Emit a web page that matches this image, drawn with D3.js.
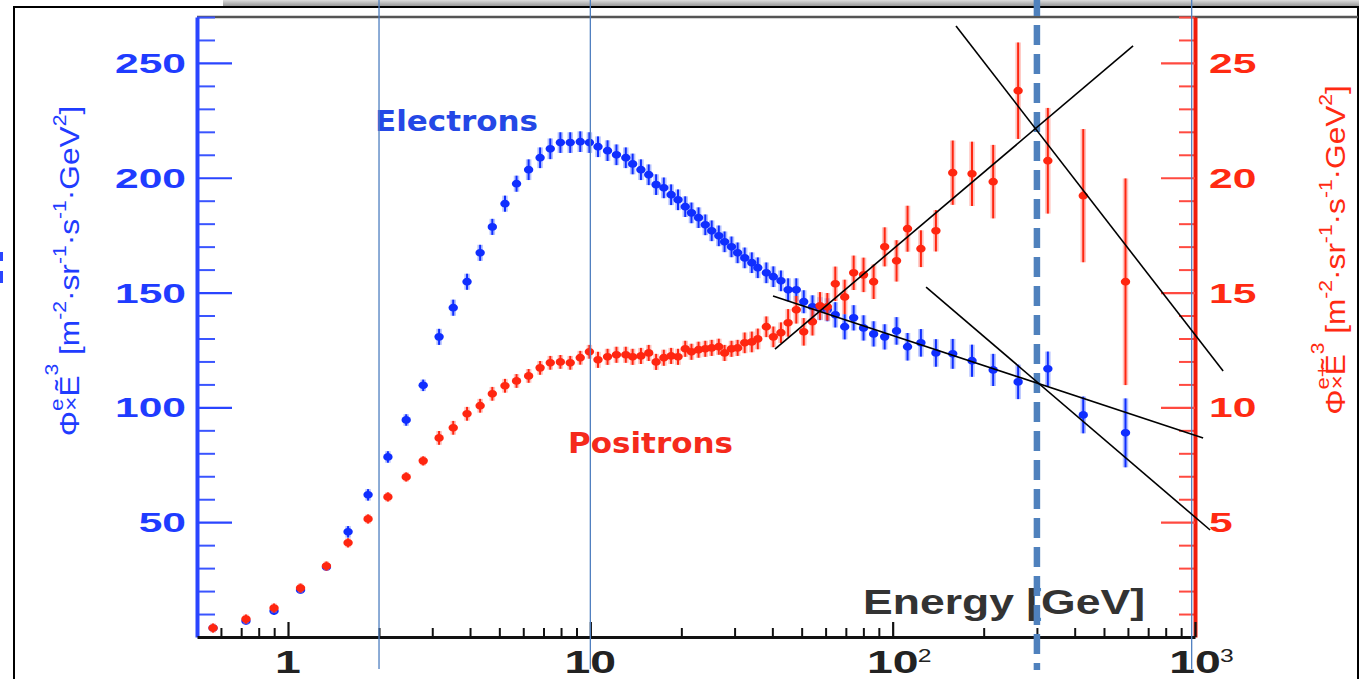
<!DOCTYPE html>
<html><head><meta charset="utf-8">
<script src="https://cdn.jsdelivr.net/npm/d3@7"></script>
<style>body{margin:0;background:#fff;overflow:hidden}svg{display:block}</style>
</head><body><svg id="c" width="1359" height="679"></svg>
<script>
// ---------------- DATA ----------------
const energy = [0.565,0.726,0.899,1.10,1.34,1.58,1.84,2.14,2.46,2.80,
  3.16,3.52,3.91,4.32,4.74,5.22,5.70,6.25,6.82,7.37,
  7.96,8.58,9.26,9.93,10.6,11.4,12.2,13.1,13.8,14.7,
  15.6,16.5,17.5,18.5,19.5,20.6,21.6,22.8,24.0,25.2,
  26.6,27.8,29.3,30.7,32.4,34.2,35.8,38.2,40.3,42.7,
  45.1,48.0,50.8,54.3,57.5,60.8,64.6,69.4,74.3,80.1,
  86.5,94.1,103,112,124,139,158,183,215,260,
  326,427,589];
const electronFlux = [3.9,7.0,11.3,20.5,30.5,45.8,61.9,78.4,94.5,109.6,
  130.7,143.4,154.7,167.3,178.6,188.7,197.4,203.5,208.7,212.6,
  215.3,215.3,215.7,215.3,213.5,211.8,210.0,208.7,206.0,203.5,
  201.3,197.0,195.6,192.6,190.4,187.4,184.7,182.6,179.5,176.9,
  174.7,172.1,169.9,167.3,165.1,163.0,160.8,158.6,156.9,155.1,
  151.2,151.2,146.0,143.8,143.0,142.5,140.3,135.1,139.0,134.6,
  132.0,130.7,133.3,126.4,128.1,123.7,123.3,120.3,116.3,111.1,
  116.8,96.7,88.9];
const electronErr = [1.5,1.5,1.5,1.5,1.5,2.5,2.5,2.5,2.5,2.5,
  3.5,3.5,3.5,3.5,3.5,3.5,3.5,4.5,4.5,4.5,
  4.5,4.5,4.5,4.5,4.5,4.5,4.5,4.5,4.5,4.5,
  4.5,4.5,4.5,4.5,4.5,4.5,4.5,4.5,4.5,4.5,
  4.5,4.5,4.5,4.5,4.5,4.5,4.5,4.5,4.5,4.5,
  5,5,5,5,5,5,5.5,5.5,5.5,5.5,
  5.5,5.5,6,6,6,6,6.5,7,7,7.5,
  7.5,8,15];
const positronFlux = [0.39,0.78,1.26,2.13,3.09,4.10,5.14,6.10,6.97,7.67,
  8.67,9.11,9.72,10.07,10.59,10.94,11.15,11.37,11.72,11.94,
  11.98,11.94,12.16,12.42,12.07,12.20,12.29,12.29,12.20,12.24,
  12.37,11.98,12.16,12.24,12.20,12.55,12.42,12.51,12.55,12.59,
  12.64,12.37,12.55,12.59,12.81,12.85,12.98,13.51,13.07,13.25,
  13.68,14.25,13.29,13.73,14.42,14.38,15.38,14.81,15.86,15.77,
  15.47,16.99,16.38,17.78,16.91,17.69,20.22,20.17,19.83,23.79,
  20.74,19.22,15.47];
const positronErr = [0.2,0.2,0.2,0.2,0.2,0.2,0.2,0.2,0.2,0.2,
  0.3,0.3,0.3,0.3,0.3,0.3,0.3,0.3,0.3,0.3,
  0.3,0.3,0.3,0.3,0.35,0.35,0.35,0.35,0.35,0.35,
  0.35,0.35,0.35,0.35,0.35,0.35,0.35,0.35,0.35,0.35,
  0.35,0.35,0.35,0.35,0.45,0.45,0.45,0.45,0.45,0.45,
  0.6,0.6,0.6,0.6,0.6,0.6,0.75,0.75,0.75,0.75,
  0.75,0.85,0.9,1.0,0.8,0.9,1.4,1.4,1.6,2.1,
  2.3,2.9,4.5];
const leftTicks = [50,100,150,200,250];
const rightTicks = [5,10,15,20,25];
const xMajorTicks = [1,10,100,1000];
const xTickBase = ["1","10","10","10"];
const xTickExp = ["","","2","3"];
const xMinorTicks = [0.6,0.7,0.8,0.9,2,3,4,5,6,7,8,9,20,30,40,50,60,70,80,90,200,300,400,500,600,700,800,900];
// annotation lines: [E1, value1, E2, value2] in left-axis units
const crossLines = [[162,266.1,1239,115.8],[40.8,125.4,624,257.4],[40.2,148.5,1064,86.7],[129,152.4,1122,46.6]];
const markerLines = [2,10,975];
const cutoffEnergy = 300;

// ---------------- SETUP ----------------
const svg = d3.select("#c");
const P = {l:197, r:1195, t:17, b:637};
const x = d3.scaleLog().domain([0.5,1000]).range([P.l,P.r]);
const yL = d3.scaleLinear().domain([0,270]).range([P.b,P.t]);
const yR = d3.scaleLinear().domain([0,27]).range([P.b,P.t]);
const BLUE = "#1f3cff", RED = "#ff2a12";

svg.append("rect").attr("width",1359).attr("height",679).attr("fill","#fff");
const defs = svg.append("defs");
const gr = defs.append("linearGradient").attr("id","sh").attr("x1",0).attr("y1",0).attr("x2",0).attr("y2",1);
gr.append("stop").attr("offset","0%").attr("stop-color","#dcdcdc");
gr.append("stop").attr("offset","100%").attr("stop-color","#8e8e8e");
svg.append("rect").attr("x",223).attr("y",0).attr("width",1136).attr("height",7).attr("fill","url(#sh)");
svg.append("path").attr("d","M14,690V7H1358V690").attr("fill","none").attr("stroke","#000").attr("stroke-width",2);
svg.append("line").attr("x1",P.l).attr("x2",1358).attr("y1",17).attr("y2",17).attr("stroke","#555").attr("stroke-width",2.5);
// fragment of a cut-off glyph at the far left edge (drawn as a shape)
svg.append("path").attr("d","M0,252h3v9h-3zM0,271h3v12h-3z").attr("fill","#2a45ff");

// ---------------- AXES ----------------
function styleAxis(g, col, w, dw){
  g.selectAll(".tick line").attr("stroke",col).attr("stroke-width",w);
  g.selectAll(".domain").attr("stroke",col).attr("stroke-width",dw);
  g.selectAll(".tick text").remove();
}
const gl1 = svg.append("g").attr("transform",`translate(${P.l},0)`)
  .call(d3.axisLeft(yL).tickValues(d3.range(10,271,10).filter(v=>v%50)).tickSizeInner(-18).tickSizeOuter(0));
gl1.select(".domain").remove(); styleAxis(gl1,"#3a55ff",2,0);
const gl = svg.append("g").attr("transform",`translate(${P.l},0)`)
  .call(d3.axisLeft(yL).tickValues(leftTicks).tickSizeInner(-35).tickSizeOuter(0));
styleAxis(gl,"#2a45ff",2.2,4);
const gr1 = svg.append("g").attr("transform",`translate(${P.r},0)`)
  .call(d3.axisRight(yR).tickValues(d3.range(1,28).filter(v=>v%5)).tickSizeInner(-16).tickSizeOuter(0));
gr1.select(".domain").remove(); styleAxis(gr1,"#ff4a40",2,0);
const grr = svg.append("g").attr("transform",`translate(${P.r},0)`)
  .call(d3.axisRight(yR).tickValues(rightTicks).tickSizeInner(-34).tickSizeOuter(0));
styleAxis(grr,"#ff4a40",2.2,4);
grr.select(".domain").attr("stroke","#f01c0c");
const gb1 = svg.append("g").attr("transform",`translate(0,${P.b})`)
  .call(d3.axisBottom(x).tickValues(xMinorTicks).tickSizeInner(-9).tickSizeOuter(0));
gb1.select(".domain").remove(); styleAxis(gb1,"#111",2,0);
const gb = svg.append("g").attr("transform",`translate(0,${P.b})`)
  .call(d3.axisBottom(x).tickValues(xMajorTicks).tickSizeInner(-15).tickSizeOuter(0));
styleAxis(gb,"#111",2.2,3);

function sText(px, py, str, o){
  const g = svg.append("g").attr("transform",`translate(${px},${py}) scale(${o.sx||1},1)`);
  const t = g.append("text").text(str).attr("text-anchor",o.anchor||"start")
    .attr("font-family",o.font||"'Liberation Sans', Arial, sans-serif")
    .attr("font-weight",o.weight||"bold").attr("font-size",o.size).attr("fill",o.fill);
  if (o.len) t.attr("textLength",o.len).attr("lengthAdjust","spacingAndGlyphs");
  return t;
}
leftTicks.forEach(v=>sText(186, yL(v)+10, String(v), {anchor:"end", size:28, fill:BLUE, sx:1.52}));
rightTicks.forEach(v=>sText(1209, yR(v)+10, String(v), {anchor:"start", size:28, fill:RED, sx:1.52}));
xMajorTicks.forEach((v,i)=>{
  sText(x(v), 673, xTickBase[i], {anchor:"middle", size:32, fill:"#222", sx:1.45});
  if (xTickExp[i]) sText(x(v)+25, 662, xTickExp[i], {anchor:"start", size:19, weight:"normal", fill:"#222", sx:1.3});
});

// ---------------- DATA MARKS ----------------
function series(vals, errs, yS, col, light){
  const d = energy.map((e,i)=>({e, v:vals[i], er:errs[i]}));
  const g = svg.append("g");
  g.selectAll("line.sys").data(d).join("line").attr("class","sys")
    .attr("x1",p=>x(p.e)).attr("x2",p=>x(p.e))
    .attr("y1",p=>yS(p.v+p.er)).attr("y2",p=>yS(p.v-p.er))
    .attr("stroke",light).attr("stroke-width",5.5).attr("opacity",0.5);
  g.selectAll("line.st").data(d).join("line").attr("class","st")
    .attr("x1",p=>x(p.e)).attr("x2",p=>x(p.e))
    .attr("y1",p=>yS(p.v+p.er)).attr("y2",p=>yS(p.v-p.er))
    .attr("stroke",col).attr("stroke-width",2);
  g.selectAll("ellipse").data(d).join("ellipse")
    .attr("cx",p=>x(p.e)).attr("cy",p=>yS(p.v)).attr("rx",4.7).attr("ry",3.9).attr("fill",col);
}
series(electronFlux, electronErr, yL, "#0f2eff", "#7088ff");
series(positronFlux, positronErr, yR, "#ff2610", "#ff8a80");

// ---------------- LABELS ----------------
sText(375, 131, "Electrons", {size:28, fill:"#2448e6", font:"'DejaVu Sans', Verdana, sans-serif", len:163});
sText(568, 453, "Positrons", {size:28, fill:"#f52a1c", font:"'DejaVu Sans', Verdana, sans-serif", len:165});
sText(863, 614, "Energy [GeV]", {size:35, fill:"#333", len:282});

function title(cx, cy, len, col, charge){
  const g = svg.append("g");
  const t = g.append("text").attr("text-anchor","middle")
    .attr("font-family","'Liberation Sans', Arial, sans-serif").attr("font-size",27).attr("fill",col);
  const parts = [
    {t:"Φ"},{t:"e"+charge, sup:16, fs:19},{t:"×", sup:1, fs:21, back:true},
    {t:"Ẽ"},{t:"3", sup:21, fs:18},{t:" [m"},{t:"-2", sup:13, fs:18},
    {t:"·sr"},{t:"-1", sup:13, fs:18},{t:"·s"},{t:"-1", sup:13, fs:18},
    {t:"·GeV"},{t:"2", sup:13, fs:18},{t:"]"}];
  let cur = 0, prevW = 0;
  parts.forEach(p=>{
    const target = p.sup ? -p.sup : 0;
    const ts = t.append("tspan").text(p.t).attr("dy", target-cur);
    cur = target;
    if (p.fs) ts.attr("font-size", p.fs);
    if (p.back) ts.attr("dx", -prevW);
    prevW = ts.node().getComputedTextLength();
  });
  const w = t.node().getComputedTextLength();
  g.attr("transform",`translate(${cx},${cy}) rotate(-90) scale(${len/w},1)`);
}
title(79, 271, 343, "#1f3cff", "");
title(1345, 250, 355, "#ff2a12", "+");

// ---------------- ANNOTATIONS ----------------
markerLines.forEach(e=>svg.append("line").attr("x1",x(e)).attr("x2",x(e)).attr("y1",0).attr("y2",669)
  .attr("stroke","#4f7fc0").attr("stroke-width",1.3));
svg.append("line").attr("x1",x(cutoffEnergy)).attr("x2",x(cutoffEnergy)).attr("y1",0).attr("y2",670)
  .attr("stroke","#4f81bd").attr("stroke-width",6.5).attr("stroke-dasharray","20,9").attr("stroke-dashoffset",4);
crossLines.forEach(l=>svg.append("line").attr("x1",x(l[0])).attr("y1",yL(l[1])).attr("x2",x(l[2])).attr("y2",yL(l[3]))
  .attr("stroke","#000").attr("stroke-width",1.6));
</script></body></html>
